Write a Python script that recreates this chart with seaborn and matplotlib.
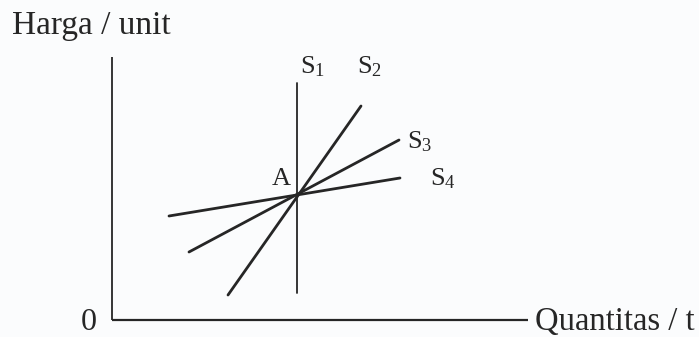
import matplotlib
matplotlib.use("Agg")
import matplotlib.pyplot as plt
import seaborn as sns
import pandas as pd

sns.set_theme(style="white")
plt.rcParams['font.family'] = ['Liberation Serif', 'DejaVu Serif']
plt.rcParams['mathtext.default'] = 'regular'

# Supply curves: endpoints (quantity, price) in diagram units
curve_names = ["S1", "S2", "S3", "S4"]
curve_q = [[18.55, 18.55], [11.6, 24.9], [7.7, 28.7], [5.7, 28.8]]
curve_p = [[2.7, 23.7], [2.5, 21.4], [6.8, 18.0], [10.4, 14.2]]
curve_labels = ["S$_1$", "S$_2$", "S$_3$", "S$_4$"]
label_q = [18.8, 24.5, 29.5, 31.8]
label_p = [24.7, 24.7, 17.2, 13.5]

# Axes extents
q_max = 41.6
p_max = 26.3

fig = plt.figure(figsize=(6.99, 3.37), dpi=100)
fig.patch.set_facecolor("#fbfcfd")
ax = fig.add_axes([0, 0, 1, 1])
ax.set_facecolor("#fbfcfd")

ink = "#262626"

# axes lines
ax.plot([0, 0], [0, p_max], color=ink, lw=1.3, solid_capstyle="butt")
ax.plot([0, q_max], [0, 0], color=ink, lw=1.6, solid_capstyle="butt")

rows = []
for name, qs, ps in zip(curve_names, curve_q, curve_p):
    for q, p in zip(qs, ps):
        rows.append({"curve": name, "q": q, "p": p})
df = pd.DataFrame(rows)

for name in curve_names:
    sub = df[df.curve == name]
    sns.lineplot(data=sub, x="q", y="p", ax=ax, color=ink,
                 lw=1.3 if name == "S1" else 2.0,
                 estimator=None, sort=False, legend=False)
ax.set_xlim(-11.2, 58.7)
ax.set_ylim(-1.7, 32.0)
ax.axis("off")

for lab, q, p in zip(curve_labels, label_q, label_p):
    ax.text(q, p, lab, fontsize=19, color=ink, ha="left", va="baseline")

ax.text(15.97, 13.5, "A", fontsize=19, color=ink, ha="left", va="baseline")
ax.text(-10.03, 28.57, "Harga / unit", fontsize=24, color=ink, ha="left", va="baseline")
ax.text(-3.13, -1.0, "0", fontsize=23, color=ink, ha="left", va="baseline")
ax.text(42.3, -1.0, "Quantitas / t", fontsize=23.5, color=ink, ha="left", va="baseline")

fig.savefig("out.png", dpi=100, facecolor=fig.get_facecolor())
